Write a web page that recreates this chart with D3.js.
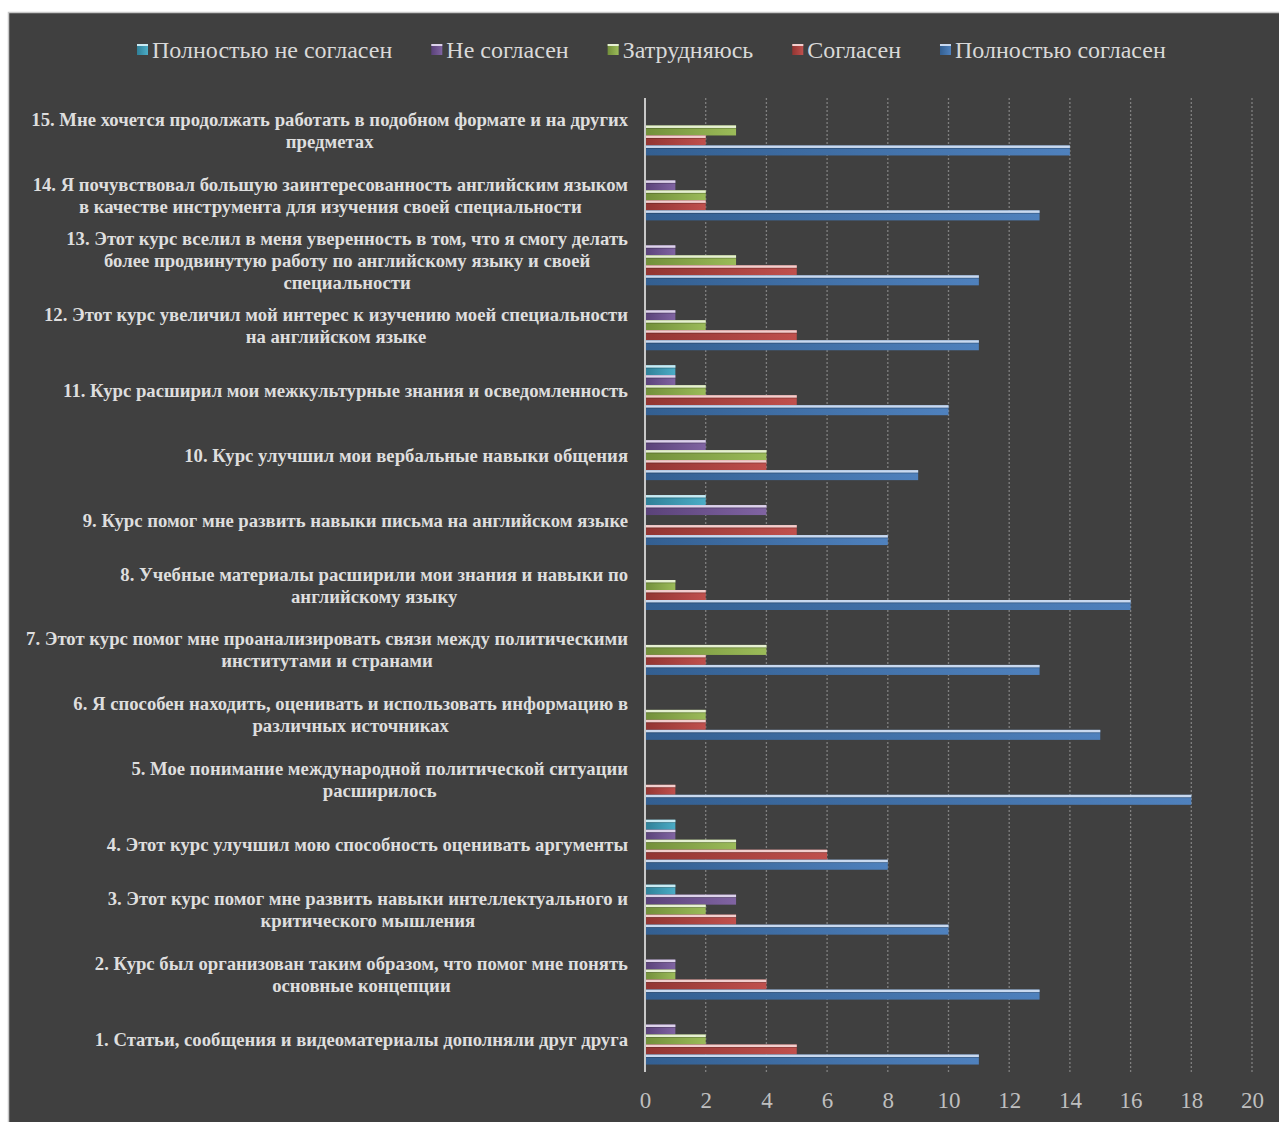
<!DOCTYPE html>
<html>
<head>
<meta charset="utf-8">
<script src="https://cdn.jsdelivr.net/npm/d3@7"></script>
<style>
  body { margin: 0; background: #ffffff; }
  svg { display: block; }
</style>
</head>
<body>
<svg id="canvas"></svg>
<script>
let width = 1279
let height = 1122
let serif = "'Liberation Serif'"

// legend / series names, in legend order
let seriesNames = ['Полностью не согласен', 'Не согласен', 'Затрудняюсь', 'Согласен', 'Полностью согласен']
let seriesColors = ['#4bacc6', '#8064a2', '#9bbb59', '#c0504d', '#4f81bd']
let seriesDark = ['#2f7f97', '#5a4279', '#728f3a', '#923532', '#335f91']
let seriesLight = ['#c9eaf3', '#ddd3ea', '#e6f0d3', '#f2cfce', '#c9d9ef']

// question numbers 1..15, each label split into its printed lines
let questions = [1,2,3,4,5,6,7,8,9,10,11,12,13,14,15]
let labelLines = [
  ['1. Статьи, сообщения и видеоматериалы дополняли друг друга'],
  ['2. Курс был организован таким образом, что помог мне понять', 'основные концепции'],
  ['3. Этот курс помог мне развить навыки интеллектуального и', 'критического мышления'],
  ['4. Этот курс улучшил мою способность оценивать аргументы'],
  ['5. Мое понимание международной политической ситуации', 'расширилось'],
  ['6. Я способен находить, оценивать и использовать информацию в', 'различных источниках'],
  ['7. Этот курс помог мне проанализировать связи между политическими', 'институтами и странами'],
  ['8. Учебные материалы расширили мои знания и навыки по', 'английскому языку'],
  ['9. Курс помог мне развить навыки письма на английском языке'],
  ['10. Курс улучшил мои вербальные навыки общения'],
  ['11. Курс расширил мои межкультурные знания и осведомленность'],
  ['12. Этот курс увеличил мой интерес к изучению моей специальности', 'на английском языке'],
  ['13. Этот курс вселил в меня уверенность в том, что я смогу делать', 'более продвинутую работу по английскому языку и своей', 'специальности'],
  ['14. Я почувствовал большую заинтересованность английским языком', 'в качестве инструмента для изучения своей специальности'],
  ['15. Мне хочется продолжать работать в подобном формате и на других', 'предметах']
]

// values per series, questions 1..15
let stronglyDisagree = [0, 0, 1, 1, 0, 0, 0, 0, 2, 0, 1, 0, 0, 0, 0]
let disagree         = [1, 1, 3, 1, 0, 0, 0, 0, 4, 2, 1, 1, 1, 1, 0]
let undecided        = [2, 1, 2, 3, 0, 2, 4, 1, 0, 4, 2, 2, 3, 2, 3]
let agree            = [5, 4, 3, 6, 1, 2, 2, 2, 5, 4, 5, 5, 5, 2, 2]
let stronglyAgree    = [11, 13, 10, 8, 18, 15, 13, 16, 8, 9, 10, 11, 11, 13, 14]

let seriesValues = [stronglyDisagree, disagree, undecided, agree, stronglyAgree]
let xTicks = [0, 2, 4, 6, 8, 10, 12, 14, 16, 18, 20]

let plotLeft = 645
let plotRight = 1252
let plotTop = 98
let plotBottom = 1072

let canvas = d3.select('#canvas').attr('width', width).attr('height', height)

// panel
canvas.append('rect')
  .attr('x', 8.5).attr('y', 12.5)
  .attr('width', width).attr('height', height)
  .attr('fill', '#404040')
  .attr('stroke', '#c8c8c8')
  .attr('stroke-width', 1.5)

let defs = canvas.append('defs')
seriesNames.forEach((s, i) => {
  let g = defs.append('linearGradient').attr('id', 'grad' + i)
    .attr('x1', '0%').attr('x2', '100%').attr('y1', '0%').attr('y2', '0%')
  g.append('stop').attr('offset', '0%').attr('stop-color', seriesDark[i])
  g.append('stop').attr('offset', '100%').attr('stop-color', seriesColors[i])
})

let xScale = d3.scaleLinear().domain([0, 20]).range([plotLeft, plotRight])
let yScale = d3.scaleBand().domain(questions.slice().reverse()).range([plotTop, plotBottom])
let subScale = d3.scaleBand().domain(d3.range(seriesNames.length)).range([0, 50])

// grid
canvas.append('g')
  .selectAll('line')
  .data(xTicks.slice(1))
  .enter()
  .append('line')
  .attr('x1', d => xScale(d)).attr('x2', d => xScale(d))
  .attr('y1', plotTop).attr('y2', plotBottom)
  .attr('stroke', '#808080')
  .attr('stroke-width', 1.3)
  .attr('stroke-dasharray', '2,2')

// bars
let barData = []
questions.forEach((q, qi) => {
  seriesValues.forEach((vals, si) => {
    barData.push({q: q, s: si, v: vals[qi]})
  })
})
let bh = subScale.bandwidth()
let bars = canvas.append('g').selectAll('g')
  .data(barData.filter(d => d.v > 0))
  .enter()
  .append('g')
  .attr('transform', d => {
    let y = yScale(d.q) + (yScale.bandwidth() - 50) / 2 + subScale(d.s)
    return `translate(${xScale(0)},${y})`
  })
bars.append('rect')
  .attr('width', d => xScale(d.v) - xScale(0))
  .attr('height', bh)
  .attr('fill', d => 'url(#grad' + d.s + ')')
bars.append('rect')
  .attr('width', d => xScale(d.v) - xScale(0))
  .attr('height', 2.5)
  .attr('fill', d => seriesLight[d.s])
bars.append('rect')
  .attr('y', 2.5)
  .attr('width', d => xScale(d.v) - xScale(0))
  .attr('height', 0.8)
  .attr('fill', 'rgba(0,0,0,0.25)')

// axis line
canvas.append('line')
  .attr('x1', plotLeft).attr('x2', plotLeft)
  .attr('y1', plotTop).attr('y2', plotBottom)
  .attr('stroke', '#c8c8c8')
  .attr('stroke-width', 2)

// x tick labels
let xAxis = d3.axisBottom(xScale).tickValues(xTicks).tickSize(0).tickPadding(0)
let xg = canvas.append('g')
  .attr('transform', `translate(0,${plotBottom + 20})`)
  .call(xAxis)
xg.select('.domain').remove()
xg.attr('font-family', null).attr('font-size', null)
xg.selectAll('text')
  .style('font-family', serif)
  .style('font-size', '23px')
  .attr('fill', '#bfbfbf')

// category labels
let lineH = 22
let lab = canvas.append('g').selectAll('text')
  .data(questions)
  .enter()
  .append('text')
  .style('font-family', serif)
  .style('font-weight', 'bold')
  .style('font-size', '18.7px')
  .attr('fill', '#dedede')
  .attr('text-anchor', 'middle')
lab.each(function(q, i) {
  let lines = labelLines[i]
  let el = d3.select(this)
  let cy = yScale(q) + yScale.bandwidth() / 2
  let tspans = lines.map((t, k) =>
    el.append('tspan')
      .attr('y', cy + (k - (lines.length - 1) / 2) * lineH)
      .attr('dy', '0.35em')
      .text(t))
  // block right-aligned at the axis, each line centred in the block
  let w = d3.max(tspans, t => t.node().getComputedTextLength())
  let cx = 628 - w / 2
  tspans.forEach(t => t.attr('x', cx))
})

// legend
let legend = canvas.append('g')
let lx = 137
seriesNames.forEach((s, i) => {
  let item = legend.append('g').attr('transform', `translate(${lx},50)`)
  item.append('rect').attr('x', 0).attr('y', -6).attr('width', 11).attr('height', 11)
    .attr('fill', 'url(#grad' + i + ')')
  item.append('rect').attr('x', 0).attr('y', -6).attr('width', 11).attr('height', 2)
    .attr('fill', seriesLight[i])
  let t = item.append('text')
    .attr('x', 15)
    .attr('dy', '0.35em')
    .style('font-family', serif)
    .style('font-size', '24px')
    .attr('fill', '#d9d9d9')
    .text(s)
  lx += 15 + t.node().getComputedTextLength() + 39
})
</script>
</body>
</html>
